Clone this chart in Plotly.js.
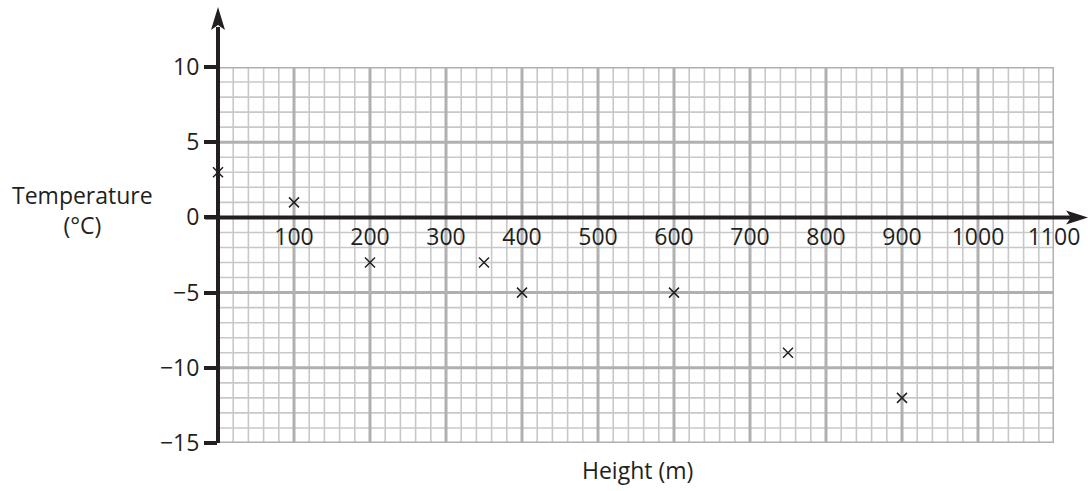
<!DOCTYPE html>
<html>
<head>
<meta charset="utf-8">
<script src="https://cdn.plot.ly/plotly-3.0.1.min.js"></script>
<style>html,body{margin:0;padding:0;background:#fff;}#chart{width:1088px;height:491px;}</style>
</head>
<body>
<div id="chart"></div>
<script>
const heights = [0, 100, 200, 350, 400, 600, 750, 900];
const temperatures = [3, 1, -3, -3, -5, -5, -9, -12];
const xTickVals = [100, 200, 300, 400, 500, 600, 700, 800, 900, 1000, 1100];
const xTickText = ['100', '200', '300', '400', '500', '600', '700', '800', '900', '1000', '1100'];
const yTickVals = [-15, -10, -5, 0, 5, 10];
const yTickText = ['\u221215', '\u221210', '\u22125', '0', '5', '10'];

const FONT = '"Open Sans", "Noto Sans", sans-serif';
const INK = '#231f20';
const FS = 23;
const X_RANGE = [0, 1100], Y_RANGE = [-15, 10];
const X_MINOR = 20, X_MAJOR = 100, Y_MINOR = 1, Y_MAJOR = 5;

const trace = {
  x: heights, y: temperatures, type: 'scatter', mode: 'markers',
  marker: {symbol: 'x-thin', size: 10, line: {width: 1.5, color: INK}, color: INK},
  hoverinfo: 'skip', cliponaxis: false
};

const W = 836, H = 376; // plot area size in px
const px = v => v / W, py = v => v / H;
const y0p = 15 / 25; // paper y of temperature 0

// graph-paper grid (minor first, then major on top)
const minorShapes = [], majorShapes = [];
for (let gx = X_RANGE[0]; gx <= X_RANGE[1] + 1e-9; gx += X_MINOR) {
  const major = Math.abs(gx / X_MAJOR - Math.round(gx / X_MAJOR)) < 1e-9;
  (major ? majorShapes : minorShapes).push({type: 'line', xref: 'x', yref: 'paper', x0: gx, x1: gx, y0: 0, y1: 1, layer: 'below',
    line: {color: major ? '#b0b0b0' : '#c8c8c8', width: major ? 3 : 1.6}});
}
for (let gy = Y_RANGE[0]; gy <= Y_RANGE[1] + 1e-9; gy += Y_MINOR) {
  const major = Math.abs(gy / Y_MAJOR - Math.round(gy / Y_MAJOR)) < 1e-9;
  (major ? majorShapes : minorShapes).push({type: 'line', xref: 'paper', yref: 'y', x0: 0, x1: 1, y0: gy, y1: gy, layer: 'below',
    line: {color: major ? '#b0b0b0' : '#c8c8c8', width: major ? 3 : 1.6}});
}

const axisShapes = [
  {type: 'line', xref: 'paper', yref: 'paper', x0: 0, x1: 0, y0: 0, y1: 1 + py(40), line: {color: INK, width: 4}, layer: 'above'},
  {type: 'path', xref: 'paper', yref: 'paper', layer: 'above', fillcolor: INK, line: {width: 0},
   path: `M ${-px(7)} ${1+py(37)} L 0 ${1+py(60)} L ${px(7)} ${1+py(37)} L 0 ${1+py(42)} Z`},
  {type: 'line', xref: 'paper', yref: 'paper', x0: -px(13), x1: 1 + px(20), y0: y0p, y1: y0p, line: {color: INK, width: 4}, layer: 'above'},
  {type: 'path', xref: 'paper', yref: 'paper', layer: 'above', fillcolor: INK, line: {width: 0},
   path: `M ${1+px(12)} ${y0p+py(7)} L ${1+px(34)} ${y0p} L ${1+px(12)} ${y0p-py(7)} L ${1+px(17)} ${y0p} Z`}
];

const layout = {
  width: 1088, height: 491,
  margin: {l: 218, r: 34, t: 67, b: 48},
  paper_bgcolor: '#fff', plot_bgcolor: '#fff',
  showlegend: false,
  font: {family: FONT, color: INK, size: FS},
  xaxis: {
    range: X_RANGE, tickmode: 'array', tickvals: xTickVals, ticktext: xTickText,
    anchor: 'free', position: y0p, side: 'bottom',
    showgrid: false, ticks: '', showline: false, zeroline: false, ticklabelstandoff: 4,
    tickfont: {family: FONT, size: FS, color: INK}, fixedrange: true
  },
  yaxis: {
    range: Y_RANGE, tickmode: 'array', tickvals: yTickVals, ticktext: yTickText,
    showgrid: false, ticks: 'outside', ticklen: 13, tickwidth: 4, tickcolor: INK,
    showline: false, zeroline: false,
    tickfont: {family: FONT, size: FS, color: INK}, fixedrange: true
  },
  shapes: minorShapes.concat(majorShapes, axisShapes),
  annotations: [
    {text: 'Temperature<br>(°C)', xref: 'paper', yref: 'paper', x: px(82-218), y: py(443-210),
     xanchor: 'center', yanchor: 'middle', showarrow: false, align: 'center',
     font: {family: FONT, size: FS, color: INK}},
    {text: 'Height (m)', xref: 'paper', yref: 'paper', x: px(637-218), y: py(443-470),
     xanchor: 'center', yanchor: 'middle', showarrow: false,
     font: {family: FONT, size: FS, color: INK}}
  ]
};

Plotly.newPlot('chart', [trace], layout, {displayModeBar: false, staticPlot: true});
</script>
</body>
</html>
